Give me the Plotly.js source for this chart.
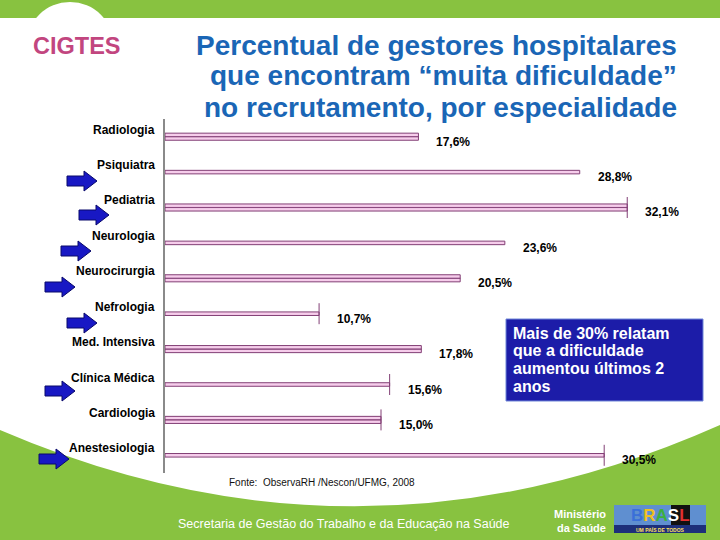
<!DOCTYPE html>
<html>
<head>
<meta charset="utf-8">
<script src="https://cdn.plot.ly/plotly-3.0.1.min.js"></script>
<style>html,body{margin:0;padding:0;background:#fff;}#chart{width:720px;height:540px;}</style>
</head>
<body>
<div id="chart"></div>
<script>
// ---- data ----
const categories = ['Radiologia','Psiquiatra','Pediatria','Neurologia','Neurocirurgia','Nefrologia','Med. Intensiva','Clínica Médica','Cardiologia','Anestesiologia'];
const values = [17.6, 28.8, 32.1, 23.6, 20.5, 10.7, 17.8, 15.6, 15.0, 30.5];
const cappedCategories = ['Pediatria','Nefrologia','Clínica Médica','Cardiologia','Anestesiologia'];
const titleLines = ['Percentual de gestores hospitalares','que encontram “muita dificuldade”','no recrutamento, por especialidade'];
const calloutLines = ['Mais de 30% relatam','que a dificuldade','aumentou últimos 2','anos'];
const sourceText = 'Fonte:  ObservaRH /Nescon/UFMG, 2008';
const footerText = 'Secretaria de Gestão do Trabalho e da Educação na Saúde';

// ---- helpers (pixel -> paper) ----
const W = 720, H = 540;
const px = x => x / W;
const py = y => 1 - y / H;
const fmt = v => v.toFixed(1).replace('.', ',') + '%';

const purple = '#823f75', pink = '#f6cdeb';
const font = 'Liberation Sans, Arial, sans-serif';

const thick = categories.map((c, i) => i % 2 === 0);
const traces = [
  {
    type: 'bar', orientation: 'h', y: categories, x: values,
    width: thick.map(t => t ? 0.2 : 0.1),
    marker: {color: pink, line: {color: purple, width: 1}},
    hoverinfo: 'skip', showlegend: false
  },
  {
    type: 'bar', orientation: 'h',
    y: categories.filter((c, i) => thick[i]),
    x: values.filter((v, i) => thick[i]),
    width: 0.004,
    marker: {color: purple, line: {color: purple, width: 0.8}},
    hoverinfo: 'skip', showlegend: false
  },
  {
    type: 'scatter', mode: 'markers',
    y: categories.filter(c => cappedCategories.includes(c)),
    x: values.filter((v, i) => cappedCategories.includes(categories[i])),
    marker: {symbol: 'line-ns-open', size: 15, color: purple, line: {color: purple, width: 1}},
    hoverinfo: 'skip', showlegend: false, cliponaxis: false
  }
];

// ---- decorations ----
const green = '#88c240';
const shapes = [
  {type: 'rect', xref: 'paper', yref: 'paper', x0: 0, x1: 1, y0: py(18), y1: 1, fillcolor: green, line: {width: 0}, layer: 'below'},
  {type: 'circle', xref: 'paper', yref: 'paper', x0: px(26), x1: px(114), y0: py(90), y1: py(2), fillcolor: '#ffffff', line: {width: 0}, layer: 'below'},
  {type: 'path', xref: 'paper', yref: 'paper',
   path: `M0,${py(430)} Q${px(360)},${py(585)} 1,${py(425)} L1,0 L0,0 Z`,
   fillcolor: green, line: {width: 0}, layer: 'below'},
  // callout box
  {type: 'rect', xref: 'paper', yref: 'paper', x0: px(506), x1: px(703), y0: py(401), y1: py(319),
   fillcolor: '#1c1ca8', line: {color: '#6f86d8', width: 1}},
  // logo
  {type: 'rect', xref: 'paper', yref: 'paper', x0: px(614), x1: px(706), y0: py(533), y1: py(505),
   fillcolor: '#5f8fd0', line: {width: 0}},
  {type: 'rect', xref: 'paper', yref: 'paper', x0: px(614), x1: px(706), y0: py(533), y1: py(525),
   fillcolor: '#1d2f7a', line: {width: 0}},
  {type: 'rect', xref: 'paper', yref: 'paper', x0: px(671), x1: px(690), y0: py(525), y1: py(505),
   fillcolor: '#111111', line: {width: 0}}
];
const arrows = [[67,181],[79,215],[61,251],[45,287],[67,323],[45,391],[39,459]];
arrows.forEach(([x, y]) => {
  const p = `M${px(x)},${py(y-5)} L${px(x+17)},${py(y-5)} L${px(x+17)},${py(y-10)} L${px(x+30)},${py(y)} L${px(x+17)},${py(y+10)} L${px(x+17)},${py(y+5)} L${px(x)},${py(y+5)} Z`;
  shapes.push({type: 'path', xref: 'paper', yref: 'paper', path: p, fillcolor: '#1818c4', line: {color: '#08086a', width: 1}});
});

// ---- annotations ----
const annotations = [];
categories.forEach((c, i) => {
  annotations.push({xref: 'x', yref: 'y', x: 0, y: c, text: c, showarrow: false,
    xanchor: 'right', yanchor: 'middle', xshift: -8, yshift: 7,
    font: {family: font, size: 12, color: '#000', weight: 'bold'}});
  annotations.push({xref: 'x', yref: 'y', x: values[i], y: c, text: fmt(values[i]), showarrow: false,
    xanchor: 'left', yanchor: 'middle', xshift: 16, yshift: -5,
    font: {family: font, size: 12, color: '#000', weight: 'bold'}});
});
titleLines.forEach((t, i) => {
  annotations.push({xref: 'paper', yref: 'paper', x: px(679), y: py(45 + 31 * i), text: t,
    showarrow: false, xanchor: 'right', yanchor: 'middle',
    font: {family: font, size: 28, color: '#1a66b6', weight: 'bold'}});
});
annotations.push({xref: 'paper', yref: 'paper', x: px(31), y: py(46), text: 'CIGTES',
  showarrow: false, xanchor: 'left', yanchor: 'middle',
  font: {family: font, size: 23.5, color: '#c2467f', weight: 'bold'}});
calloutLines.forEach((t, i) => {
  annotations.push({xref: 'paper', yref: 'paper', x: px(511), y: py(333 + 17.8 * i), text: t,
    showarrow: false, xanchor: 'left', yanchor: 'middle',
    font: {family: font, size: 16, color: '#ffffff', weight: 'bold'}});
});
annotations.push({xref: 'paper', yref: 'paper', x: px(227), y: py(482), text: sourceText,
  showarrow: false, xanchor: 'left', yanchor: 'middle',
  font: {family: font, size: 10, color: '#111'}});
annotations.push({xref: 'paper', yref: 'paper', x: px(176), y: py(524), text: footerText,
  showarrow: false, xanchor: 'left', yanchor: 'middle',
  font: {family: font, size: 12.5, color: '#ffffff'}});
annotations.push({xref: 'paper', yref: 'paper', x: px(608), y: py(521), text: 'Ministério<br>da Saúde',
  showarrow: false, xanchor: 'right', yanchor: 'middle', align: 'right',
  font: {family: font, size: 11, color: '#ffffff', weight: 'bold'}});
annotations.push({xref: 'paper', yref: 'paper', x: px(660), y: py(515), text: '<span style="color:#3a6fd8">B</span><span style="color:#f0c020">R</span><span style="color:#3cb040">A</span><span style="color:#ffffff">S</span><span style="color:#e03030">L</span>',
  showarrow: false, xanchor: 'center', yanchor: 'middle',
  font: {family: font, size: 17, color: '#ffffff', weight: 'bold'}});
annotations.push({xref: 'paper', yref: 'paper', x: px(660), y: py(529), text: 'UM PAÍS DE TODOS',
  showarrow: false, xanchor: 'center', yanchor: 'middle',
  font: {family: font, size: 5, color: '#ffe060', weight: 'bold'}});

const layout = {
  width: W, height: H,
  margin: {l: 0, r: 0, t: 0, b: 0},
  paper_bgcolor: '#ffffff', plot_bgcolor: 'rgba(0,0,0,0)',
  barmode: 'overlay',
  showlegend: false,
  xaxis: {domain: [px(165), px(669)], range: [0, 35], showgrid: false, zeroline: false,
          showline: false, showticklabels: false, ticks: '', fixedrange: true},
  yaxis: {domain: [py(473), py(119)], type: 'category', range: [categories.length - 0.5, -0.5],
          showgrid: false, zeroline: false, showline: true, linecolor: '#8a8a8a', linewidth: 2,
          showticklabels: false, ticks: '', fixedrange: true},
  shapes: shapes,
  annotations: annotations
};

Plotly.newPlot('chart', traces, layout, {displayModeBar: false, staticPlot: true});
</script>
</body>
</html>
